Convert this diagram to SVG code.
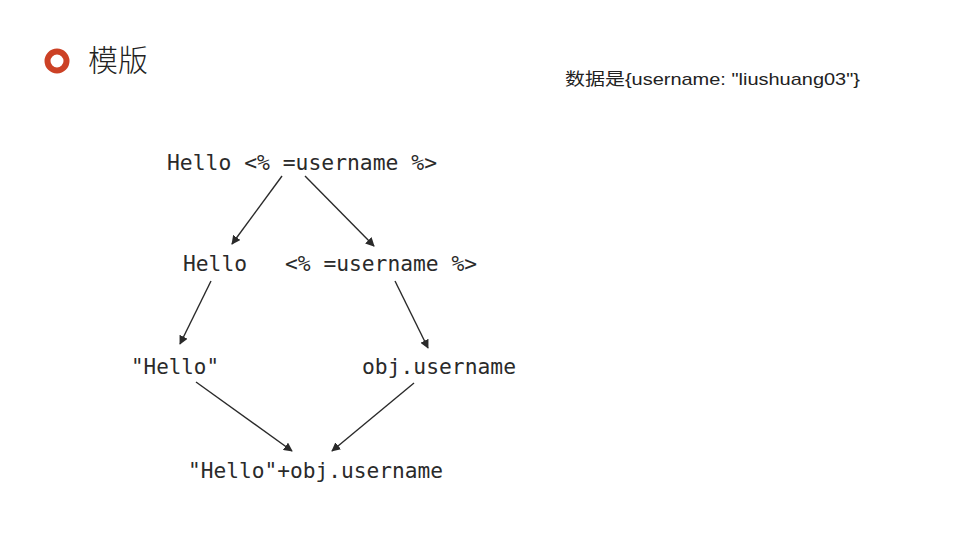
<svg xmlns="http://www.w3.org/2000/svg" width="960" height="540" viewBox="0 0 960 540">
<style>
.code{font-family:"DejaVu Sans Mono","Liberation Mono",monospace;font-size:21px;fill:#2a2a2a}
.conn line{stroke:#2a2a2a;stroke-width:1.4;marker-end:url(#ah)}
</style>
<defs>
<marker id="ah" viewBox="0 0 10 10" refX="9" refY="5" markerWidth="9" markerHeight="9" markerUnits="userSpaceOnUse" orient="auto">
<path d="M0,0 L10,5 L0,10 z" fill="#2a2a2a"/>
</marker>
</defs>
<rect width="960" height="540" fill="#fff"/>
<g id="title">
<circle cx="57" cy="61" r="9.5" fill="none" stroke="#cc4125" stroke-width="6"/>
<text x="88" y="71" font-family="'Noto Sans CJK SC',sans-serif" font-size="30" font-weight="300" fill="#222">模版</text>
</g>
<g id="data-note">
<text x="565" y="85" font-family="'Liberation Sans','Noto Sans CJK SC',sans-serif" font-size="17" fill="#222" textLength="295" lengthAdjust="spacingAndGlyphs">数据是{username: "liushuang03"}</text>
</g>
<g id="n-root"><text class="code" x="167" y="170" textLength="270" lengthAdjust="spacingAndGlyphs">Hello &lt;% =username %&gt;</text></g>
<g id="n-hello"><text class="code" x="183" y="271" textLength="64" lengthAdjust="spacingAndGlyphs">Hello</text></g>
<g id="n-expr"><text class="code" x="285" y="271" textLength="192" lengthAdjust="spacingAndGlyphs">&lt;% =username %&gt;</text></g>
<g id="n-str"><text class="code" x="131" y="374" textLength="88" lengthAdjust="spacingAndGlyphs">"Hello"</text></g>
<g id="n-obj"><text class="code" x="362" y="374" textLength="154" lengthAdjust="spacingAndGlyphs">obj.username</text></g>
<g id="n-concat"><text class="code" x="188" y="478" textLength="255" lengthAdjust="spacingAndGlyphs">"Hello"+obj.username</text></g>
<g id="connectors" class="conn">
<line x1="282" y1="176" x2="232" y2="244"/>
<line x1="305" y1="176" x2="374" y2="246"/>
<line x1="211" y1="281" x2="180" y2="344"/>
<line x1="395" y1="281" x2="428" y2="348"/>
<line x1="196" y1="382" x2="292" y2="451"/>
<line x1="414" y1="383" x2="332" y2="451"/>
</g>
</svg>
